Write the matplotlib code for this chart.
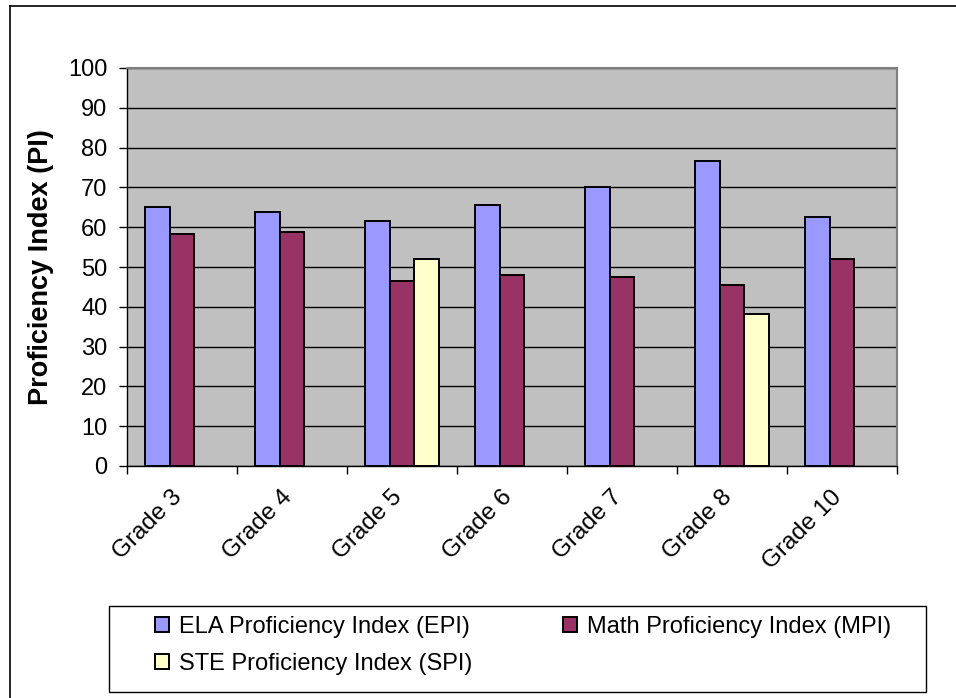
import matplotlib
matplotlib.use("Agg")
import matplotlib.pyplot as plt
import numpy as np
from matplotlib.lines import Line2D
from matplotlib.patches import Rectangle

categories = ["Grade 3", "Grade 4", "Grade 5", "Grade 6", "Grade 7", "Grade 8", "Grade 10"]
epi = [65.2, 63.7, 61.6, 65.7, 70.1, 76.7, 62.6]
mpi = [58.2, 58.7, 46.6, 48.1, 47.6, 45.6, 52.1]
spi = [np.nan, np.nan, 52.1, np.nan, np.nan, 38.1, np.nan]
series_names = ["ELA Proficiency Index (EPI)", "Math Proficiency Index (MPI)", "STE Proficiency Index (SPI)"]
colors = ["#9999FF", "#993366", "#FFFFCC"]

plt.rcParams['font.family'] = ['Liberation Sans', 'DejaVu Sans']

W, H = 956, 698
fig = plt.figure(figsize=(W / 100, H / 100), dpi=100)
ax = fig.add_axes([127 / W, 1 - 466 / H, (897 - 127) / W, (466 - 68) / H])
ax.set_facecolor("#C0C0C0")

x = np.arange(len(categories))
w = 0.227
bars = []
for i, (vals, col) in enumerate(zip([epi, mpi, spi], colors)):
    b = ax.bar(x + (i - 1) * w, vals, width=w, color=col, edgecolor="black", linewidth=1.4, zorder=3)
    bars.append(b)

ax.set_xlim(-0.5, len(categories) - 0.5)
ax.set_ylim(0, 100)
ax.set_yticks(np.arange(0, 101, 10))
ax.yaxis.grid(True, color="black", linewidth=1.0, zorder=1)
ax.set_axisbelow(True)

ax.set_xticks(np.arange(-0.5, len(categories), 1.0))
ax.set_xticklabels([])
ax.set_xticks(x - 0.03, minor=True)
ax.set_xticklabels(categories, minor=True, rotation=45, ha="right", va="center",
                   rotation_mode="anchor", fontsize=17.5)
ax.tick_params(axis="x", which="minor", length=0, pad=20)
ax.tick_params(axis="x", which="major", length=6, width=1, color="black", direction="out")
ax.tick_params(axis="y", length=6, width=1, direction="out", labelsize=17, pad=8)

for s in ["left", "bottom"]:
    ax.spines[s].set_color("black")
    ax.spines[s].set_linewidth(1.0)
for s in ["right", "top"]:
    ax.spines[s].set_color("#808080")
    ax.spines[s].set_linewidth(1.5)

ax.set_ylabel("Proficiency Index (PI)", fontsize=19.5, fontweight="bold")
ax.yaxis.set_label_coords((54 - 127) / (897 - 127), 0.5)

# legend box
fig.add_artist(Rectangle((109 / W, 1 - 692 / H), (926 - 109) / W, (692 - 606) / H,
                         transform=fig.transFigure, facecolor="white", edgecolor="black",
                         linewidth=1.0, zorder=1))
leg_kw = dict(loc="upper left", frameon=False, fontsize=17, handlelength=0.6,
              handleheight=0.6, handletextpad=0.42, borderaxespad=0, borderpad=0,
              labelspacing=0.62)
leg1 = fig.legend([bars[0], bars[2]], [series_names[0], series_names[2]],
                  bbox_to_anchor=(155 / W, 1 - 616 / H), **leg_kw)
leg1.set_zorder(2)
leg2 = fig.legend([bars[1]], [series_names[1]],
                  bbox_to_anchor=(563 / W, 1 - 616 / H), **leg_kw)
leg2.set_zorder(2)

# outer frame (top and left visible)
fig.add_artist(Line2D([10 / W, 1.0], [1 - 6 / H, 1 - 6 / H], color="black", linewidth=1.2))
fig.add_artist(Line2D([10 / W, 10 / W], [0, 1 - 6 / H], color="black", linewidth=1.2))

fig.savefig("out.png", dpi=100)
